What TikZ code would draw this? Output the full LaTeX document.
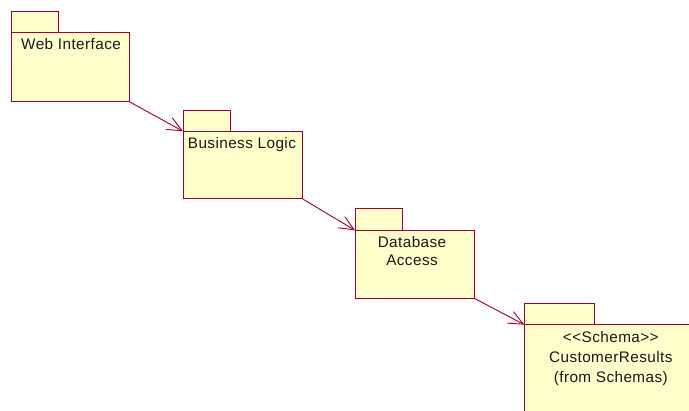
\documentclass[tikz,border=0pt]{standalone}
\usepackage{fontspec}
\setmainfont{Liberation Sans}[LetterSpace=2.8,Ligatures=NoCommon]
\usetikzlibrary{arrows.meta}
\definecolor{pkgline}{RGB}{153,0,51}
\definecolor{pkgfill}{RGB}{255,255,204}
\tikzset{
  pkgpart/.style={draw=pkgline, fill=pkgfill, line width=1pt},
  dep/.style={draw=pkgline, line width=0.9pt, -{Straight Barb[length=14.6pt,width=13pt,line width=0.9pt]}},
  lbl/.style={inner sep=0pt, font=\fontsize{15.3}{20}\selectfont, text=black!90}
}
\begin{document}
\begin{tikzpicture}[x=1pt,y=-1pt]
\useasboundingbox (0,0) rectangle (689,411);
\fill[white] (0,0) rectangle (689,411);
\clip (0,0) rectangle (689,411);
% Package 1
\draw[pkgpart] (11,11.7) rectangle (58.5,32.3);
\draw[pkgpart] (11,32.3) rectangle (129,101.5);
\coordinate (p1) at (129,101.5);
\node[lbl, anchor=base west] (t1) at (21,49.3) {Web Interface};
% Package 2
\draw[pkgpart] (183,110.7) rectangle (230.3,131.3);
\draw[pkgpart] (183,131.3) rectangle (302.7,199);
\coordinate (p2in) at (183,131.3);
\coordinate (p2out) at (302.7,199);
\node[lbl, anchor=base west] (t2) at (187.7,148.3) {Business Logic};
% Package 3
\draw[pkgpart] (355,208.7) rectangle (402.7,230.3);
\draw[pkgpart] (355,230.3) rectangle (474.3,298.3);
\coordinate (p3in) at (355,230.3);
\coordinate (p3out) at (474.3,298.3);
\node[lbl, anchor=base] (t3a) at (412,247.3) {Database};
\node[lbl, anchor=base] (t3b) at (412,266) {Access};
% Package 4
\draw[pkgpart] (524.3,303.7) rectangle (594.3,324.7);
\draw[pkgpart] (524.3,324.7) rectangle (700,425);
\coordinate (p4in) at (524.3,324.7);
\node[lbl, anchor=base] (t4a) at (610.8,342.7) {{<}{<}Schema{>}{>}};
\node[lbl, anchor=base] (t4b) at (610.8,362.7) {CustomerResults};
\node[lbl, anchor=base] (t4c) at (610.8,382.7) {(from Schemas)};
% Dependencies
\draw[dep] (p1) -- (p2in);
\draw[dep] (p2out) -- (p3in);
\draw[dep] (p3out) -- (p4in);
\end{tikzpicture}
\end{document}
